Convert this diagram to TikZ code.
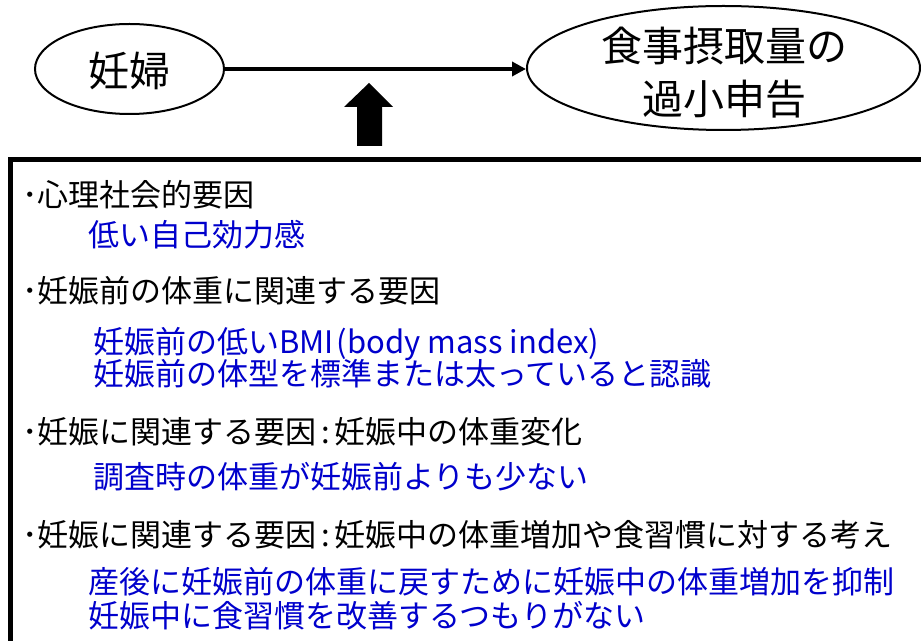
\documentclass[tikz,border=0pt]{standalone}
\usepackage{fontspec}
\setmainfont{Noto Sans CJK JP}
\usetikzlibrary{shapes.geometric,arrows.meta}
\definecolor{txtblue}{RGB}{0,0,204}
\begin{document}
\begin{tikzpicture}[x=0.75pt,y=-0.75pt,
  oval/.style={ellipse, draw, line width=1.5pt, inner sep=0pt},
  bigtext/.style={inner sep=0pt, align=center, font=\fontsize{30.75pt}{39.75pt}\selectfont},
  head/.style={anchor=west, inner sep=0pt, font=\fontsize{23.25pt}{28pt}\selectfont, text height=20.4pt, text depth=2.8pt},
  sub/.style={head, text=txtblue},
  flow/.style={line width=3pt, -{Triangle[length=10.5pt,width=10.5pt]}},
  blockarrow/.style={fill=black}
]
\clip (0,0) rectangle (921,641);
\fill[white] (0,0) rectangle (921,641);
% top row
\node[oval, minimum width=141.75pt, minimum height=67.5pt] (preg) at (129.5,69) {};
\node[bigtext] (pregt) at (129.5,71) {妊婦};
\node[oval, minimum width=294.75pt, minimum height=93pt] (under) at (723.5,68) {};
\node[bigtext] (undert) at (724,72.5) {食事摂取量の\\過小申告};
\draw[flow] (preg.east) -- (under.west |- preg.east);
% block arrow
\coordinate (tip) at (369,83);
\fill[blockarrow] (357,146) -- (382,146) -- (382,107) -- (393,107) -- (tip) -- (344,107) -- (357,107) -- cycle;
% box
\draw[line width=3.75pt] (10.5,159.5) rectangle (980,720);
% texts
\node[head] (h1) at (22,195) {･心理社会的要因};
\node[sub] (s1) at (88,235) {低い自己効力感};
\node[head] (h2) at (22,291) {･妊娠前の体重に関連する要因};
\node[sub] (s2a) at (93,342) {妊娠前の低いBMI\hspace{0.1em}(body mass index)};
\node[sub] (s2b) at (93,374) {妊娠前の体型を標準または太っていると認識};
\node[head] (h3) at (22,432) {･妊娠に関連する要因\hspace{0.15em}:\hspace{0.15em}妊娠中の体重変化};
\node[sub] (s3) at (93,477) {調査時の体重が妊娠前よりも少ない};
\node[head] (h4) at (22,535) {･妊娠に関連する要因\hspace{0.15em}:\hspace{0.15em}妊娠中の体重増加や食習慣に対する考え};
\node[sub] (s4a) at (88,582) {産後に妊娠前の体重に戻すために妊娠中の体重増加を抑制};
\node[sub] (s4b) at (88,616) {妊娠中に食習慣を改善するつもりがない};
\end{tikzpicture}
\end{document}
